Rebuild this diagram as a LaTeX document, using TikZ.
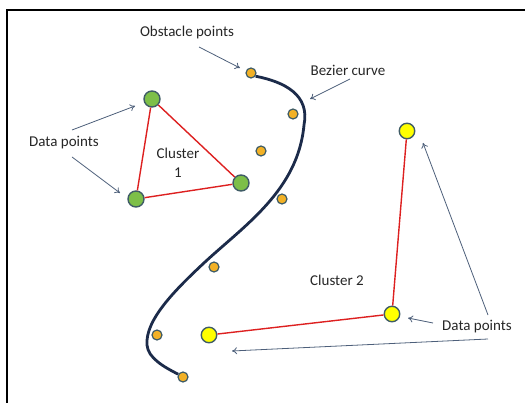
\documentclass[tikz,border=0pt]{standalone}
\usepackage{fontspec}
\setmainfont{Carlito}
\usetikzlibrary{arrows.meta}
\definecolor{obst}{HTML}{F2B126}
\definecolor{grn}{HTML}{7DBF48}
\definecolor{ylw}{HTML}{FFFF00}
\definecolor{rim}{HTML}{3F5C66}
\definecolor{curve}{HTML}{1C2B4A}
\definecolor{arr}{HTML}{4D5F7A}
\definecolor{lnk}{HTML}{DD2020}
\definecolor{txt}{HTML}{262626}
\begin{document}
\begin{tikzpicture}[x=1pt,y=-1pt,
  obstpt/.style={circle,draw=rim,line width=1.2pt,fill=obst,inner sep=0pt,minimum size=10pt},
  greenpt/.style={circle,draw=rim,line width=1.4pt,fill=grn,inner sep=0pt,minimum size=16pt},
  yellowpt/.style={circle,draw=rim,line width=1.4pt,fill=ylw,inner sep=0pt,minimum size=15.5pt},
  link/.style={draw=lnk,line width=1.4pt},
  pointer/.style={draw=arr,line width=0.8pt,-{To[length=5pt,width=7pt]}},
  label/.style={text=txt,font=\fontsize{15}{19}\selectfont,inner sep=0pt,align=center},
  bez/.style={draw=curve,line width=2.8pt}]
\useasboundingbox (0,0) rectangle (525,403);
\draw[line width=2pt,black] (6.5,430) -- (6.5,10) -- (545,10);

% obstacle points
\node[obstpt] (o1) at (251,73) {};
\node[obstpt] (o2) at (293,114) {};
\node[obstpt] (o3) at (261,151) {};
\node[obstpt] (o4) at (282,199) {};
\node[obstpt] (o5) at (214,267) {};
\node[obstpt] (o6) at (157,335) {};
\node[obstpt] (o7) at (183,377) {};

% bezier curve
\draw[bez] (o1.-35) .. controls (285,82) and (310,95) .. (304,125)
  .. controls (298,190) and (245,225) .. (205,262)
  .. controls (175,290) and (145,320) .. (147,345)
  .. controls (148,358) and (164,367) .. (o7.150);

% cluster 1
\node[greenpt] (g1) at (152,99) {};
\node[greenpt] (g2) at (241,183) {};
\node[greenpt] (g3) at (136,199) {};
\draw[link] (g1) -- (g2);
\draw[link] (g2) -- (g3);
\draw[link] (g3) -- (g1);
\node[label] (c1) at (178,163) {Cluster\\1};

% cluster 2
\node[yellowpt] (y1) at (407,131) {};
\node[yellowpt] (y2) at (392,314) {};
\node[yellowpt] (y3) at (209,335) {};
\draw[link] (y1) -- (y2);
\draw[link] (y2) -- (y3);
\node[label] (c2) at (337,280) {Cluster 2};

% labels
\node[label] (obl) at (187,33) {Obstacle points};
\node[label] (bzl) at (348,70) {Bezier curve};
\node[label] (dl1) at (64,143) {Data points};
\node[label] (dl2) at (477,327) {Data points};

% pointers
\coordinate (a1s) at (199,47);  \coordinate (a1e) at (240,68);
\coordinate (a2s) at (350,79);  \coordinate (a2e) at (310,99);
\coordinate (a3s) at (72,130);  \coordinate (a3e) at (135,106);
\coordinate (a4s) at (72,157);  \coordinate (a4e) at (120,193);
\coordinate (a5s) at (488,315); \coordinate (a5e) at (423,143);
\coordinate (a6s) at (433,323); \coordinate (a6e) at (408,318);
\coordinate (a7s) at (488,339); \coordinate (a7e) at (232,351);
\draw[pointer] (a1s) -- (a1e);
\draw[pointer] (a2s) -- (a2e);
\draw[pointer] (a3s) -- (a3e);
\draw[pointer] (a4s) -- (a4e);
\draw[pointer] (a5s) -- (a5e);
\draw[pointer] (a6s) -- (a6e);
\draw[pointer] (a7s) -- (a7e);
\end{tikzpicture}
\end{document}
